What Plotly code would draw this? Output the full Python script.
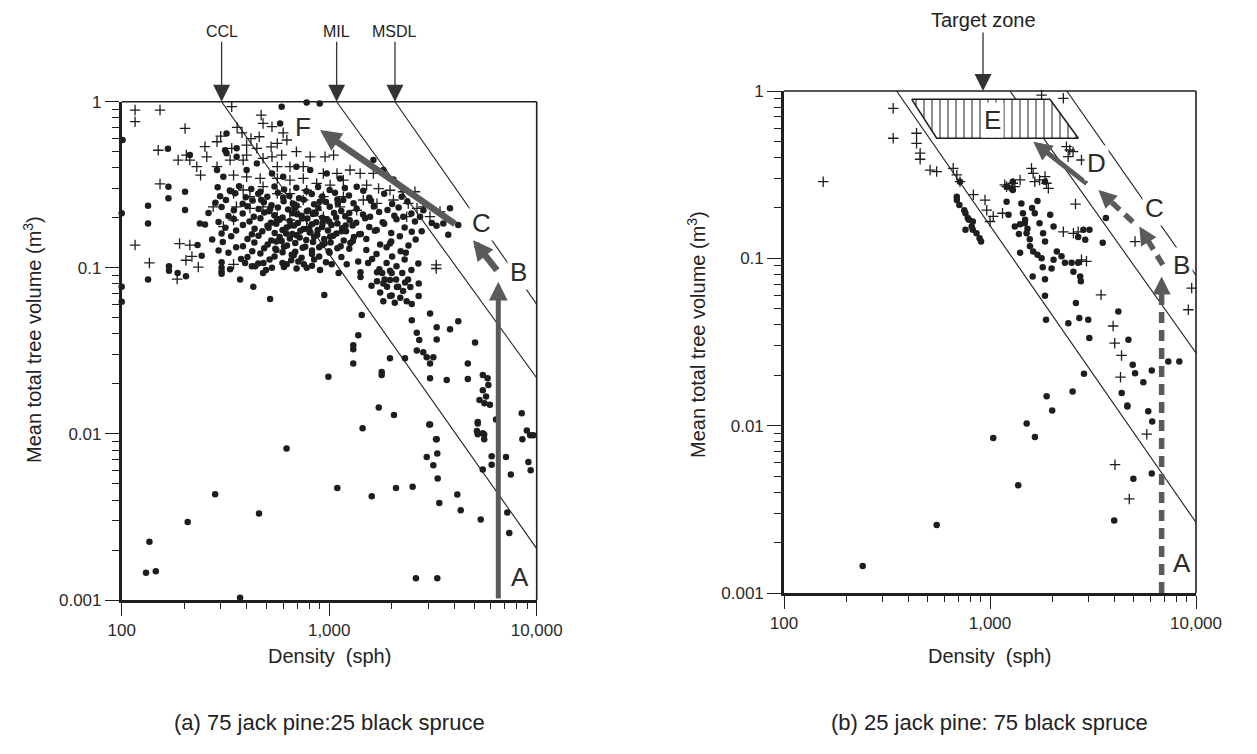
import math
import plotly.graph_objects as go

W, H = 1257, 754
FONT = "Liberation Sans, Arial, Helvetica, sans-serif"
INK = "#1e1e1e"
ARROW = "#5a5a5a"

# ---------------- panel (a): 75 jack pine : 25 black spruce ----------------
# filled dots, (density sph, mean tree volume m3)
a_dots_low = [
    (131, 0.00146), (146, 0.00149), (136, 0.00224), (208, 0.00295), (282, 0.00433), (459, 0.00332),
    (623, 0.00817), (372, 0.00103), (1094, 0.00473), (1449, 0.0108), (1603, 0.00421), (2099, 0.00473),
    (2524, 0.0048), (2618, 0.00135), (3318, 0.00135), (3062, 0.0114), (3273, 0.0093), (2951, 0.00727),
    (3176, 0.00648), (3318, 0.00762), (3333, 0.00539), (3394, 0.00384), (4143, 0.00432), (4303, 0.00347),
    (5373, 0.00305), (5198, 0.01155), (5198, 0.00995), (5585, 0.0099), (5585, 0.0093), (5495, 0.0061),
    (6067, 0.00734), (6067, 0.00653), (7115, 0.00725), (7500, 0.0057), (7215, 0.00336), (7376, 0.00253),
    (8530, 0.0093), (8960, 0.0105), (9120, 0.00678), (9350, 0.00604), (9630, 0.0098),
]
a_dots_mid = [
    (431, 0.0768), (519, 0.0648), (947, 0.0685), (991, 0.0221), (1435, 0.0519), (1381, 0.0393),
    (1306, 0.0342), (1306, 0.0323), (1306, 0.0265), (1790, 0.0236), (1790, 0.0226), (1733, 0.0144),
    (2052, 0.013), (1963, 0.0285), (2319, 0.0285), (2500, 0.0484), (2643, 0.0406), (2717, 0.0367),
    (2643, 0.0318), (2840, 0.031), (2951, 0.0289), (3062, 0.0265), (3176, 0.0289), (3062, 0.0531),
    (3296, 0.0438), (3296, 0.037), (3822, 0.0427), (4188, 0.0477), (5046, 0.0355), (4656, 0.0265),
    (4656, 0.0214), (3683, 0.0211), (3062, 0.0216), (3034, 0.0114), (3296, 0.0093), (5500, 0.0226),
    (5800, 0.0216), (5850, 0.0197), (5500, 0.0183), (5700, 0.0168), (5300, 0.016), (5600, 0.0153),
    (5950, 0.015), (5200, 0.0118), (5150, 0.0104), (5500, 0.0101), (8470, 0.0133), (6370, 0.0122),
    (9300, 0.0098),
]
a_dots_edge = [
    (101, 0.588), (100, 0.213), (100, 0.077), (100, 0.0625), (590, 0.933), (779, 0.99), (900, 0.975),
    (580, 0.74), (167, 0.52), (213, 0.477), (134, 0.236), (134, 0.185), (168, 0.308), (168, 0.262),
    (202, 0.287), (202, 0.223), (238, 0.185), (134, 0.0851), (169, 0.102), (169, 0.096), (186, 0.093),
    (204, 0.089), (303, 0.1), (303, 0.095), (303, 0.092), (372, 0.085),
]
a_dots_upper = [
    (320, 0.644), (358, 0.524), (315, 0.51), (320, 0.49), (358, 0.466), (288, 0.388), (309, 0.353),
    (400, 0.388), (448, 0.425), (695, 0.406), (530, 0.37), (600, 0.353), (810, 0.388), (973, 0.37),
    (1128, 0.345), (1357, 0.308), (1633, 0.445), (1824, 0.388), (2235, 0.268), (2844, 0.222),
    (3820, 0.228), (3748, 0.158), (4188, 0.181), (3548, 0.185), (2275, 0.203), (2740, 0.203),
    (2500, 0.165), (1694, 0.169), (1963, 0.14), (1169, 0.256), (1574, 0.203), (2040, 0.34),
]
a_dots_core = [
    (290, .305), (332, .292), (368, .31), (421, .298), (466, .287), (545, .309), (606, .296), (694, .303), (776, .289), (884, .307), (1005, .294), (1190, .302), (1460, .291),
    (298, .27), (352, .281), (396, .266), (455, .279), (503, .268), (566, .283), (643, .271), (716, .262), (824, .278), (926, .269), (1066, .283), (1245, .272), (1560, .264), (1840, .279),
    (283, .246), (318, .256), (383, .243), (428, .254), (484, .248), (527, .238), (603, .252), (668, .244), (754, .257), (846, .241), (965, .249), (1095, .258), (1310, .245), (1590, .253), (2010, .242), (2380, .251),
    (303, .232), (347, .222), (404, .235), (457, .226), (513, .219), (566, .231), (634, .224), (697, .236), (792, .221), (886, .229), (1006, .233), (1143, .22), (1356, .227), (1640, .234), (1910, .223), (2160, .231),
    (262, .214), (327, .205), (383, .212), (433, .203), (486, .215), (544, .207), (596, .201), (664, .213), (736, .206), (834, .211), (926, .2), (1055, .214), (1195, .204), (1455, .209), (1740, .217), (2060, .206), (2490, .212),
    (293, .189), (347, .197), (413, .19), (466, .199), (524, .187), (576, .195), (645, .191), (706, .186), (785, .198), (866, .188), (975, .196), (1095, .185), (1256, .193), (1490, .199), (1810, .188), (2110, .196), (2590, .19), (3120, .186),
    (252, .182), (316, .174), (384, .181), (437, .172), (504, .179), (556, .184), (624, .175), (677, .18), (755, .171), (826, .183), (924, .176), (1025, .181), (1155, .173), (1296, .18), (1560, .176), (1840, .184), (2310, .175), (3290, .179),
    (303, .161), (356, .168), (424, .159), (476, .166), (546, .162), (596, .169), (664, .16), (726, .167), (806, .163), (876, .158), (986, .168), (1085, .161), (1205, .166), (1395, .159), (1660, .167), (1990, .162), (2790, .166),
    (273, .148), (337, .155), (404, .149), (456, .156), (526, .146), (577, .153), (646, .15), (696, .157), (775, .147), (846, .154), (945, .149), (1045, .156), (1175, .146), (1315, .153), (1510, .149), (2190, .155), (2610, .148),
    (232, .137), (307, .143), (384, .135), (436, .142), (505, .138), (556, .144), (626, .136), (686, .141), (766, .134), (836, .143), (925, .137), (1015, .142), (1135, .135), (1265, .141), (1760, .138), (1990, .144), (2410, .136),
    (293, .127), (356, .133), (426, .126), (486, .131), (556, .128), (606, .134), (686, .125), (745, .132), (826, .127), (895, .133), (995, .126), (1095, .131), (1510, .128), (1890, .133), (2210, .126),
    (243, .118), (327, .123), (404, .116), (466, .122), (545, .117), (596, .124), (675, .119), (736, .115), (826, .121), (895, .117), (1005, .123), (1145, .116), (1690, .121), (2010, .117), (2340, .123),
    (303, .108), (376, .113), (455, .106), (516, .112), (595, .107), (656, .111), (755, .105), (846, .112), (965, .108), (1610, .113), (1890, .107), (2310, .112), (2690, .106),
    (333, .098), (424, .102), (496, .097), (605, .101), (696, .099), (826, .103), (1745, .098), (2110, .102), (2490, .097),
    (470, .257), (520, .226), (560, .194), (620, .161), (680, .229), (740, .198), (800, .172), (860, .212),
    (930, .186), (1010, .154), (1080, .201), (1150, .166), (1250, .214), (1350, .187), (1420, .16), (510, .174),
    (590, .145), (650, .18), (720, .152), (780, .219), (880, .169), (950, .14), (1100, .244), (1200, .18),
    (1300, .145), (600, .265), (700, .21), (900, .25), (1000, .19), (1250, .13), (550, .13), (660, .12),
    (480, .093), (1800, .093), (2000, .093), (2250, .093), (1850, .085), (2100, .085), (2400, .085),
    (1900, .077), (2150, .077), (2000, .068),
    (1824, .0805), (1964, .0845), (2120, .0766), (2270, .0726), (2460, .0766), (1760, .071), (1964, .0676),
    (2200, .066), (2362, .063), (1824, .063), (2070, .0616), (2500, .0606), (2700, .0676), (2320, .0815),
    (1700, .083), (2700, .0805), (1700, .094), (1964, .096), (1415, .094), (1415, .088), (1600, .078),
    (393, .107), (440, .102), (482, .107), (530, .10), (624, .105), (710, .109), (779, .10), (903, .097),
    (1028, .105), (1110, .093), (1215, .105), (1380, .109), (1540, .107),
]
# plus-sign markers
a_plus = [
    (339, 0.933), (470, 0.831), (480, 0.74), (530, 0.707), (460, 0.615), (420, 0.60), (400, 0.548),
    (448, 0.524), (525, 0.535), (562, 0.561), (625, 0.588), (339, 0.524), (288, 0.574), (252, 0.536),
    (257, 0.466), (213, 0.445), (205, 0.477), (187, 0.445), (230, 0.406), (240, 0.361), (288, 0.406),
    (333, 0.445), (385, 0.445), (400, 0.477), (480, 0.456), (530, 0.466), (590, 0.477), (695, 0.50),
    (810, 0.466), (955, 0.466), (1050, 0.477), (750, 0.406), (647, 0.406), (562, 0.406), (937, 0.37),
    (1090, 0.37), (1260, 0.388), (1410, 0.37), (1633, 0.37), (346, 0.361), (400, 0.353), (465, 0.345),
    (562, 0.345), (647, 0.337), (750, 0.345), (870, 0.322), (1010, 0.315), (1170, 0.337), (1515, 0.315),
    (1730, 0.30), (1964, 0.293), (2270, 0.287), (2590, 0.287), (2040, 0.256), (2405, 0.244), (2650, 0.228),
    (2843, 0.233), (3060, 0.203), (3420, 0.218), (2362, 0.203), (1700, 0.244), (1460, 0.256), (385, 0.294),
    (346, 0.28), (415, 0.268), (647, 0.28), (779, 0.293), (937, 0.268), (415, 0.228), (346, 0.194),
    (357, 0.233), (213, 0.137), (190, 0.14), (1128, 0.233), (1357, 0.222), (695, 0.233), (116, 0.891),
    (153, 0.891), (116, 0.758), (202, 0.69), (150, 0.51), (153, 0.32), (116, 0.137), (562, 0.28),
    (480, 0.308), (750, 0.256), (870, 0.222), (562, 0.203), (937, 0.203), (1170, 0.268), (480, 0.233),
    (647, 0.194), (779, 0.177), (309, 0.177), (276, 0.233), (136, 0.107), (185, 0.0855), (204, 0.111),
    (218, 0.117), (234, 0.101), (3280, 0.104), (3280, 0.099), (346, 0.105), (360, 0.70), (300, 0.62),
    (380, 0.65), (600, 0.65),
]

# ---------------- panel (b): 25 jack pine : 75 black spruce ----------------
b_dots = [
    (241, 0.00145), (551, 0.00255), (1037, 0.00844), (1371, 0.0044), (1507, 0.0103), (1652, 0.00855),
    (2004, 0.0123), (4008, 0.00271), (4642, 0.0132), (4966, 0.00481), (5865, 0.0122), (6130, 0.0106),
    (6100, 0.00517), (1871, 0.043), (1611, 0.0779), (1849, 0.0751), (1849, 0.0597), (1400, 0.108),
    (1563, 0.118), (1803, 0.0886), (2400, 0.041), (2713, 0.044), (2999, 0.0429), (2612, 0.054),
    (3034, 0.0334), (2858, 0.0204), (1884, 0.015), (2518, 0.016), (4197, 0.0481), (4699, 0.0326),
    (4358, 0.0157), (4643, 0.013), (4930, 0.0231), (5060, 0.0206), (5550, 0.0182), (6100, 0.0214),
    (7340, 0.0242), (8300, 0.0242), (3525, 0.124), (3655, 0.174),
    (690, 0.223), (710, 0.208), (750, 0.194), (760, 0.186), (780, 0.174), (790, 0.17), (815, 0.155),
    (825, 0.148), (860, 0.141), (890, 0.132), (905, 0.126), (760, 0.148), (825, 0.166), (715, 0.287),
    (690, 0.233),
    (1290, 0.256), (1204, 0.218), (1230, 0.182), (1320, 0.155), (1420, 0.213), (1445, 0.186),
    (1475, 0.162), (1505, 0.141), (1650, 0.186), (1740, 0.162), (1810, 0.141), (1850, 0.126),
    (1960, 0.182), (2035, 0.155), (2110, 0.11), (2225, 0.103), (2310, 0.094), (2490, 0.094),
    (2680, 0.094), (2540, 0.083), (2740, 0.078), (2760, 0.073), (2840, 0.148), (3040, 0.148),
    (2680, 0.134), (2900, 0.129), (1990, 0.087), (2035, 0.098), (1290, 0.287), (1850, 0.287),
    (1270, 0.262), (1204, 0.268), (1480, 0.17), (1520, 0.15), (1560, 0.13), (1620, 0.11),
    (1700, 0.105), (1780, 0.10), (1400, 0.16), (1380, 0.14), (1600, 0.2), (1700, 0.22),
]
b_plus = [
    (339, 0.788), (339, 0.522), (440, 0.559), (440, 0.487), (458, 0.425), (458, 0.391), (512, 0.337),
    (551, 0.33), (663, 0.345), (690, 0.315), (715, 0.287), (155, 0.287), (1204, 0.268), (1290, 0.281),
    (1650, 0.287), (1740, 0.294), (1850, 0.308), (1880, 0.281), (1920, 0.262), (1590, 0.345),
    (1620, 0.322), (2350, 0.465), (2440, 0.444), (2395, 0.405), (2530, 0.434), (2780, 0.387),
    (1780, 0.946), (2270, 0.904), (830, 0.24), (946, 0.223), (964, 0.194), (1037, 0.178), (1000, 0.166),
    (1180, 0.275), (1320, 0.268), (1400, 0.294), (1150, 0.186), (2270, 0.144), (2540, 0.141),
    (2680, 0.144), (2780, 0.098), (2940, 0.096), (2600, 0.211), (3460, 0.0605), (3960, 0.0394),
    (4030, 0.0311), (4350, 0.0263), (4300, 0.0195), (5060, 0.126), (9530, 0.0664), (9180, 0.0493),
    (4045, 0.00585), (4745, 0.00365), (5770, 0.0089),
]

# self-thinning reference lines: density where each meets volume 1, volume where each meets 10,000 sph
a_line_names = ["CCL", "MIL", "MSDL"]
a_line_top_density = [303, 1086, 2075]
a_line_end_volume = [0.00204, 0.0217, 0.0603]
b_line_top_density = [352, 1250, 2360]
b_line_end_volume = [0.00264, 0.0272, 0.079]

# target zone E (corners, clockwise)
zone_density = [417, 1954, 2685, 551, 417]
zone_volume = [0.892, 0.892, 0.522, 0.522, 0.892]
zone_pointer_density = 925

# management paths: (tail, head)
a_arrows = [((6530, 0.001), (6530, 0.0824)),
            ((6520, 0.0946), (4930, 0.147)),
            ((4110, 0.181), (903, 0.675))]
a_letters = [("A", 8310, 0.00138), ("B", 8130, 0.0946), ("C", 5430, 0.185), ("F", 748, 0.70)]

b_dashed_arrows = [((6810, 0.001), (6810, 0.078)),
                   ((6900, 0.0914), (5310, 0.155)),
                   ((4940, 0.165), (3360, 0.256))]
b_solid_arrows = [((2999, 0.275), (1622, 0.498))]
b_letters = [("A", 8510, 0.00151), ("B", 8510, 0.0914), ("C", 6320, 0.1995), ("D", 3300, 0.370),
             ("E", 1024, 0.671)]

x_tick_vals = [100, 1000, 10000]
x_tick_text = ["100", "1,000", "10,000"]
y_tick_vals = [0.001, 0.01, 0.1, 1]
y_tick_text = ["0.001", "0.01", "0.1", "1"]

# ---------------- layout geometry ----------------
A_X = [121.7 / W, 536.7 / W]
A_Y = [(H - 600) / H, (H - 101.7) / H]
B_X = [784 / W, 1196 / W]
B_Y = [(H - 593) / H, (H - 91) / H]

x_minor = [m * 10 ** e for e in (2, 3) for m in range(2, 10)]
y_minor = [m * 10.0 ** e for e in (-3, -2, -1) for m in range(2, 10)]

fig = go.Figure()


def points(pts, xa, ya, kind):
    xs = [p[0] for p in pts]
    ys = [p[1] for p in pts]
    if kind == "dot":
        marker = dict(symbol="circle", size=6.5, color=INK, line=dict(width=0))
    else:
        marker = dict(symbol="cross-thin", size=7.5, color=INK, line=dict(width=1.3, color=INK))
    fig.add_trace(go.Scatter(x=xs, y=ys, mode="markers", marker=marker, xaxis=xa, yaxis=ya,
                             cliponaxis=False, hoverinfo="skip"))


for grp in (a_dots_low, a_dots_mid, a_dots_edge, a_dots_upper, a_dots_core):
    points(grp, "x", "y", "dot")
points(a_plus, "x", "y", "plus")
points(b_dots, "x2", "y2", "dot")
points(b_plus, "x2", "y2", "plus")

for d0, v1 in zip(a_line_top_density, a_line_end_volume):
    fig.add_trace(go.Scatter(x=[d0, 10000], y=[1, v1], mode="lines", xaxis="x", yaxis="y",
                             line=dict(color=INK, width=1.1), hoverinfo="skip"))
for d0, v1 in zip(b_line_top_density, b_line_end_volume):
    fig.add_trace(go.Scatter(x=[d0, 10000], y=[1, v1], mode="lines", xaxis="x2", yaxis="y2",
                             line=dict(color=INK, width=1.1), hoverinfo="skip"))

# hatched target zone
fig.add_trace(go.Scatter(x=zone_density, y=zone_volume, mode="lines", fill="toself",
                         fillcolor="white",
                         fillpattern=dict(shape="|", fgcolor="#000000", bgcolor="white", size=8, solidity=0.22),
                         line=dict(color=INK, width=1.5), xaxis="x2", yaxis="y2", hoverinfo="skip"))


def px_scale(xdom, ydom):
    return (xdom[1] - xdom[0]) * W / 2.0, (ydom[1] - ydom[0]) * H / 3.0


annotations = []

# solid arrows, panel (a)
a_arrow_width = [5, 6.5, 6.5]
a_arrow_size = [0.75, 0.62, 0.65]
for (tail, head), w, s in zip(a_arrows, a_arrow_width, a_arrow_size):
    annotations.append(dict(x=math.log10(head[0]), y=math.log10(head[1]),
                            ax=math.log10(tail[0]), ay=math.log10(tail[1]),
                            xref="x", yref="y", axref="x", ayref="y", text="", showarrow=True,
                            arrowhead=2, arrowsize=s, arrowwidth=w, arrowcolor=ARROW, standoff=0))

# dashed arrows, panel (b): dashed shaft + short solid head
sx, sy = px_scale(B_X, B_Y)
for tail, head in b_dashed_arrows:
    lx0, ly0 = math.log10(tail[0]), math.log10(tail[1])
    lx1, ly1 = math.log10(head[0]), math.log10(head[1])
    dx, dy = (lx1 - lx0) * sx, -(ly1 - ly0) * sy
    L = math.hypot(dx, dy)
    f = 1 - 12.0 / L
    xe, ye = 10 ** (lx0 + f * (lx1 - lx0)), 10 ** (ly0 + f * (ly1 - ly0))
    fig.add_trace(go.Scatter(x=[tail[0], xe], y=[tail[1], ye], mode="lines", xaxis="x2", yaxis="y2",
                             line=dict(color=ARROW, width=5.5, dash="11px,7px"), hoverinfo="skip"))
    ux, uy = dx / L, dy / L
    annotations.append(dict(x=lx1, y=ly1, ax=-ux * 16, ay=-uy * 16, xref="x2", yref="y2",
                            axref="pixel", ayref="pixel", text="", showarrow=True, arrowhead=2,
                            arrowsize=0.72, arrowwidth=5, arrowcolor=ARROW, standoff=0))
for tail, head in b_solid_arrows:
    annotations.append(dict(x=math.log10(head[0]), y=math.log10(head[1]),
                            ax=math.log10(tail[0]), ay=math.log10(tail[1]),
                            xref="x2", yref="y2", axref="x2", ayref="y2", text="", showarrow=True,
                            arrowhead=2, arrowsize=0.75, arrowwidth=5, arrowcolor=ARROW, standoff=0))

# stage letters
for xr, yr, letters in (("x", "y", a_letters), ("x2", "y2", b_letters)):
    for name, d, v in letters:
        annotations.append(dict(x=math.log10(d), y=math.log10(v), xref=xr, yref=yr, text=name,
                                xanchor="center", yanchor="middle",
                                showarrow=False, bgcolor="white", borderpad=2,
                                font=dict(family=FONT, size=26, color="#2b2b2b")))

# line names with pointers
for name, d in zip(a_line_names, a_line_top_density):
    annotations.append(dict(x=math.log10(d), y=A_Y[1], xref="x", yref="paper", text=name,
                            showarrow=True, ax=0, ay=-70, arrowhead=2, arrowsize=2.6, arrowwidth=1.3,
                            arrowcolor="#333333", standoff=0,
                            font=dict(family=FONT, size=16, color="#222222")))
annotations.append(dict(x=math.log10(zone_pointer_density), y=B_Y[1], xref="x2", yref="paper",
                        text="Target zone", showarrow=True, ax=0, ay=-71, arrowhead=2, arrowsize=2.6,
                        arrowwidth=1.3, arrowcolor="#333333", standoff=0,
                        font=dict(family=FONT, size=20, color="#222222")))

# axis titles and captions
for xd, cap in ((A_X, "(a) 75 jack pine:25 black spruce"),
                (B_X, "(b) 25 jack pine: 75 black spruce")):
    xc = (xd[0] + xd[1]) / 2
    annotations.append(dict(x=xc, y=(H - 656) / H, xref="paper", yref="paper", text="Density  (sph)",
                            xanchor="center", yanchor="middle", showarrow=False,
                            font=dict(family=FONT, size=20, color="#222222")))
    annotations.append(dict(x=xc, y=(H - 722) / H, xref="paper", yref="paper", text=cap,
                            xanchor="center", yanchor="middle", showarrow=False,
                            font=dict(family=FONT, size=22, color="#222222")))
for xp, yp in ((33, 340), (696, 334)):
    annotations.append(dict(x=xp / W, y=(H - yp) / H, xref="paper", yref="paper", textangle=-90,
                            xanchor="center", yanchor="middle",
                            text="Mean total tree volume (m<sup>3</sup>)", showarrow=False,
                            font=dict(family=FONT, size=20, color="#222222")))


def x_axis(dom, anchor):
    return dict(type="log", range=[2, 4], domain=dom, anchor=anchor, showgrid=False, zeroline=False,
                showline=True, linecolor=INK, linewidth=2.6, ticks="outside", ticklen=13, tickwidth=1.4,
                tickcolor=INK, tickmode="array", tickvals=x_tick_vals, ticktext=x_tick_text,
                tickfont=dict(family=FONT, size=17, color="#2a2a2a"), automargin=False,
                minor=dict(ticks="outside", ticklen=6, tickwidth=1.2, tickcolor=INK,
                           tickvals=x_minor, showgrid=False))


def y_axis(dom, anchor):
    return dict(type="log", range=[-3, 0], domain=dom, anchor=anchor, showgrid=False, zeroline=False,
                showline=True, linecolor=INK, linewidth=2.6, ticks="outside", ticklen=14, tickwidth=1.4,
                tickcolor=INK, tickmode="array", tickvals=y_tick_vals, ticktext=y_tick_text,
                tickfont=dict(family=FONT, size=17, color="#2a2a2a"), automargin=False,
                minor=dict(ticks="outside", ticklen=7, tickwidth=1.2, tickcolor=INK,
                           tickvals=y_minor, showgrid=False))


shapes = []
for xr, yr in (("x domain", "y domain"), ("x2 domain", "y2 domain")):
    shapes.append(dict(type="line", xref=xr, yref=yr, x0=0, x1=1, y0=1, y1=1,
                       line=dict(color=INK, width=1.6)))
    shapes.append(dict(type="line", xref=xr, yref=yr, x0=1, x1=1, y0=0, y1=1,
                       line=dict(color=INK, width=1.6)))

fig.update_layout(
    width=W, height=H, margin=dict(l=0, r=0, t=0, b=0), autosize=False,
    paper_bgcolor="white", plot_bgcolor="white", showlegend=False,
    xaxis=x_axis(A_X, "y"), yaxis=y_axis(A_Y, "x"),
    xaxis2=x_axis(B_X, "y2"), yaxis2=y_axis(B_Y, "x2"),
    annotations=annotations, shapes=shapes,
)

fig.write_html("out.html")
